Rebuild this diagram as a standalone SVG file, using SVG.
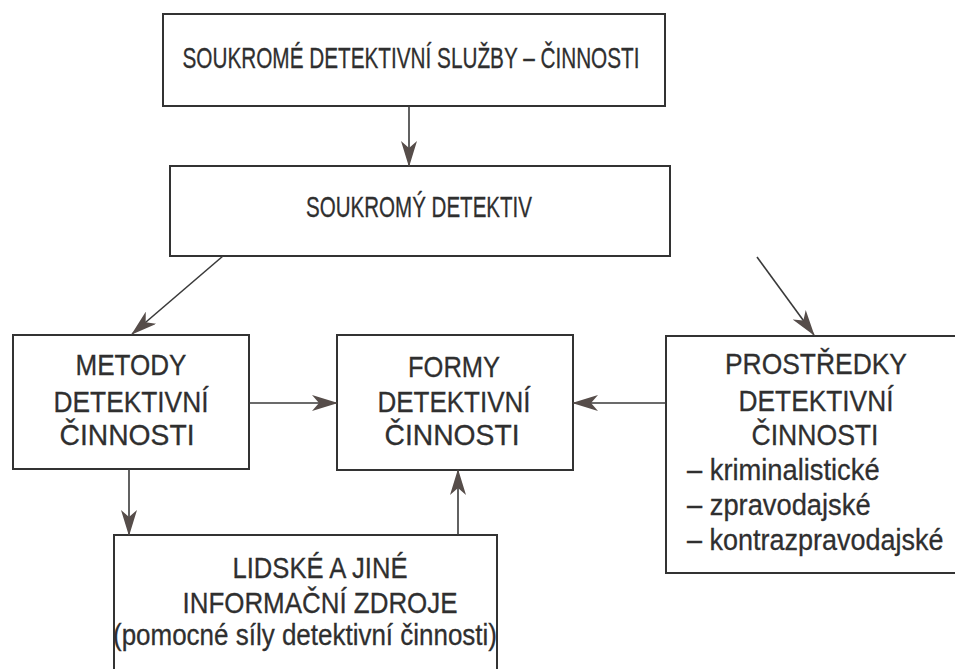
<svg xmlns="http://www.w3.org/2000/svg" width="955" height="669" viewBox="0 0 955 669">
<defs>
<marker id="ah" markerUnits="userSpaceOnUse" markerWidth="26" markerHeight="16" refX="25" refY="8" orient="auto">
<path d="M0,0 L26,8 L0,16 L7,8 Z" fill="#564d4a"/>
</marker>
<style>
.box{fill:#fff;stroke:#333;stroke-width:2}
.open{fill:none;stroke:#333;stroke-width:2}
.t{font-family:"Liberation Sans",Arial,sans-serif;font-size:30px;fill:#2f2f2f;stroke:#2f2f2f;stroke-width:0.3;text-anchor:middle}
.l{font-family:"Liberation Sans",Arial,sans-serif;font-size:30px;fill:#2f2f2f;stroke:#2f2f2f;stroke-width:0.3}
.c{stroke:#3a3a3a;stroke-width:1.6;fill:none;marker-end:url(#ah)}
</style>
</defs>
<rect width="955" height="669" fill="#fff"/>
<g id="n-sluzby">
<rect class="box" x="163" y="14" width="502" height="92"/>
<text class="t" x="411" y="68" textLength="457" lengthAdjust="spacingAndGlyphs">SOUKROMÉ DETEKTIVNÍ SLUŽBY – ČINNOSTI</text>
</g>
<g id="n-detektiv">
<rect class="box" x="170" y="166" width="500" height="90"/>
<text class="t" x="419" y="217" textLength="226" lengthAdjust="spacingAndGlyphs">SOUKROMÝ DETEKTIV</text>
</g>
<g id="n-metody">
<rect class="box" x="13" y="335" width="236" height="134"/>
<text class="t" x="131" y="375" textLength="111" lengthAdjust="spacingAndGlyphs">METODY</text>
<text class="t" x="131" y="412" textLength="155" lengthAdjust="spacingAndGlyphs">DETEKTIVNÍ</text>
<text class="t" x="127" y="445" textLength="135" lengthAdjust="spacingAndGlyphs">ČINNOSTI</text>
</g>
<g id="n-formy">
<rect class="box" x="337" y="335" width="236" height="135"/>
<text class="t" x="454" y="377" textLength="92" lengthAdjust="spacingAndGlyphs">FORMY</text>
<text class="t" x="454" y="412" textLength="153" lengthAdjust="spacingAndGlyphs">DETEKTIVNÍ</text>
<text class="t" x="452" y="445" textLength="135" lengthAdjust="spacingAndGlyphs">ČINNOSTI</text>
</g>
<g id="n-prostredky">
<rect x="666" y="336" width="289" height="237" fill="#fff"/>
<path class="open" d="M955,336 H666 V573 H955"/>
<text class="t" x="816" y="374" textLength="182" lengthAdjust="spacingAndGlyphs">PROSTŘEDKY</text>
<text class="t" x="816" y="411" textLength="155" lengthAdjust="spacingAndGlyphs">DETEKTIVNÍ</text>
<text class="t" x="815" y="445" textLength="127" lengthAdjust="spacingAndGlyphs">ČINNOSTI</text>
<text class="l" transform="translate(687,480) scale(0.91,1)" x="0" y="0">– kriminalistické</text>
<text class="l" transform="translate(687,515) scale(0.91,1)" x="0" y="0">– zpravodajské</text>
<text class="l" transform="translate(687,550) scale(0.9,1)" x="0" y="0">– kontrazpravodajské</text>
</g>
<g id="n-lidske">
<rect x="114" y="535" width="383" height="134" fill="#fff"/>
<path class="open" d="M114,669 V535 H497 V669"/>
<text class="t" x="320" y="578" textLength="175" lengthAdjust="spacingAndGlyphs">LIDSKÉ A JINÉ</text>
<text class="t" x="320" y="613" textLength="275" lengthAdjust="spacingAndGlyphs">INFORMAČNÍ ZDROJE</text>
<text class="t" x="305" y="645" textLength="384" lengthAdjust="spacingAndGlyphs">(pomocné síly detektivní činnosti)</text>
</g>
<g id="connectors">
<line class="c" x1="409" y1="106" x2="409" y2="166"/>
<line class="c" x1="223" y1="256" x2="132" y2="334"/>
<line class="c" x1="757" y1="257" x2="814" y2="335"/>
<line class="c" x1="249" y1="403" x2="337" y2="403"/>
<line class="c" x1="666" y1="403" x2="573" y2="403"/>
<line class="c" x1="129" y1="469" x2="129" y2="535"/>
<line class="c" x1="458" y1="535" x2="458" y2="470"/>
</g>
</svg>
